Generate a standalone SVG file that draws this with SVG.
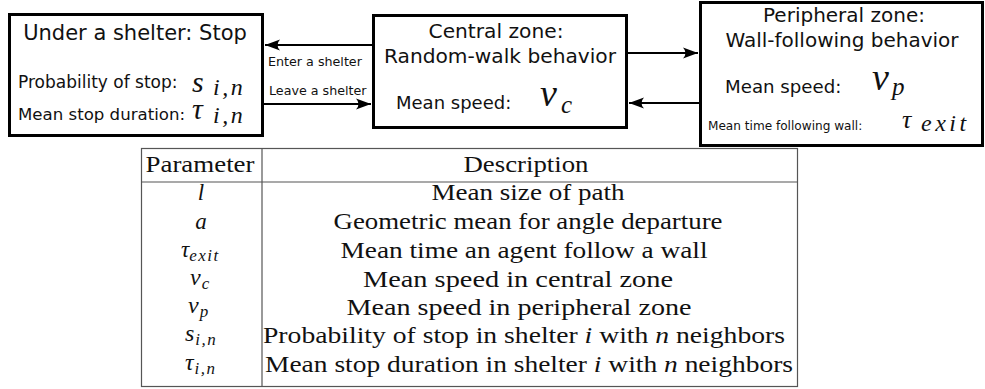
<svg xmlns="http://www.w3.org/2000/svg" width="985" height="389" viewBox="0 0 985 389">
<style>
.box{fill:#fff;stroke:#000;stroke-width:3}
.sans{font-family:"DejaVu Sans",sans-serif;fill:#111}
.serif{font-family:"Liberation Serif",serif;fill:#111}
.math{font-family:"Liberation Serif",serif;font-style:italic;fill:#111}
.conn{stroke:#000;stroke-width:2;fill:none}
.tbl{stroke:#555;stroke-width:1.2;fill:none}
</style>
<defs>
<marker id="ah" markerUnits="userSpaceOnUse" markerWidth="16" markerHeight="12" refX="15" refY="6" orient="auto" viewBox="0 0 16 12">
<path d="M15,6 L0,0.5 Q5,6 0,11.5 Z" fill="#000"/>
</marker>
</defs>
<rect width="985" height="389" fill="#fff"/>

<g id="shelter">
<rect class="box" x="9.5" y="14.5" width="253" height="121"/>
<text class="sans" x="135" y="40" font-size="21" text-anchor="middle">Under a shelter: Stop</text>
<text class="sans" x="18" y="88" font-size="17">Probability of stop:</text>
<text class="math" x="192" y="92" font-size="30">s</text>
<text class="math" x="213" y="95" font-size="24" letter-spacing="2.5">i,n</text>
<text class="sans" x="18" y="120" font-size="16.6">Mean stop duration:</text>
<text class="math" x="192" y="119" font-size="30">τ</text>
<text class="math" x="213" y="123" font-size="24" letter-spacing="2.5">i,n</text>
</g>

<g id="central">
<rect class="box" x="373.5" y="15.5" width="253" height="112"/>
<text class="sans" x="496" y="38" font-size="20.2" text-anchor="middle">Central zone:</text>
<text class="sans" x="500" y="63" font-size="20.2" text-anchor="middle">Random-walk behavior</text>
<text class="sans" x="396" y="109" font-size="18">Mean speed:</text>
<text class="math" x="540" y="106" font-size="38">v</text>
<text class="math" x="561" y="113" font-size="25">c</text>
</g>

<g id="peripheral">
<rect class="box" x="700.5" y="2.5" width="282" height="143"/>
<text class="sans" x="844" y="22" font-size="20" text-anchor="middle">Peripheral zone:</text>
<text class="sans" x="842" y="47" font-size="20" text-anchor="middle">Wall-following behavior</text>
<text class="sans" x="725" y="93" font-size="18.2">Mean speed:</text>
<text class="math" x="872" y="90" font-size="38">v</text>
<text class="math" x="892" y="95" font-size="25">p</text>
<text class="sans" x="708" y="130" font-size="12.1">Mean time following wall:</text>
<text class="math" x="902" y="128" font-size="26">τ</text>
<text class="math" x="921" y="131" font-size="24" letter-spacing="3.5">exit</text>
</g>

<g id="connectors">
<line class="conn" x1="373" y1="45" x2="265" y2="45" marker-end="url(#ah)"/>
<line class="conn" x1="263" y1="104" x2="371" y2="104" marker-end="url(#ah)"/>
<line class="conn" x1="627" y1="53" x2="698" y2="53" marker-end="url(#ah)"/>
<line class="conn" x1="700" y1="103" x2="629" y2="103" marker-end="url(#ah)"/>
<text class="sans" x="268" y="66" font-size="12.7">Enter a shelter</text>
<text class="sans" x="269" y="95" font-size="12.7">Leave a shelter</text>
</g>

<g id="table">
<rect class="tbl" x="141.5" y="148.5" width="656" height="238"/>
<line class="tbl" x1="141.5" y1="182" x2="797.5" y2="182"/>
<line class="tbl" x1="262" y1="148.5" x2="262" y2="386.5"/>
<text class="serif" x="200" y="172" font-size="23" text-anchor="middle" textLength="109" lengthAdjust="spacingAndGlyphs">Parameter</text>
<text class="serif" x="526" y="172" font-size="23" text-anchor="middle" textLength="125" lengthAdjust="spacingAndGlyphs">Description</text>

<text class="math" x="201" y="200" font-size="23" text-anchor="middle">l</text>
<text class="serif" x="528" y="200" font-size="23" text-anchor="middle" textLength="193" lengthAdjust="spacingAndGlyphs">Mean size of path</text>

<text class="math" x="201" y="229" font-size="23" text-anchor="middle">a</text>
<text class="serif" x="528" y="229" font-size="23" text-anchor="middle" textLength="389" lengthAdjust="spacingAndGlyphs">Geometric mean for angle departure</text>

<text class="math" x="181" y="257" font-size="23">τ<tspan font-size="17" dy="4" letter-spacing="1.5">exit</tspan></text>
<text class="serif" x="524" y="258" font-size="23" text-anchor="middle" textLength="367" lengthAdjust="spacingAndGlyphs">Mean time an agent follow a wall</text>

<text class="math" x="190" y="285" font-size="24">v<tspan font-size="17" dy="4" dx="1">c</tspan></text>
<text class="serif" x="518" y="287" font-size="23" text-anchor="middle" textLength="310" lengthAdjust="spacingAndGlyphs">Mean speed in central zone</text>

<text class="math" x="188" y="313" font-size="24">v<tspan font-size="17" dy="4" dx="1">p</tspan></text>
<text class="serif" x="519" y="315" font-size="23" text-anchor="middle" textLength="345" lengthAdjust="spacingAndGlyphs">Mean speed in peripheral zone</text>

<text class="math" x="185" y="341" font-size="24">s<tspan font-size="17" dy="4" dx="1" letter-spacing="1.5">i,n</tspan></text>
<text class="serif" x="524" y="343" font-size="23" text-anchor="middle" textLength="522" lengthAdjust="spacingAndGlyphs">Probability of stop in shelter <tspan font-style="italic">i</tspan> with <tspan font-style="italic">n</tspan> neighbors</text>

<text class="math" x="185" y="370" font-size="24">τ<tspan font-size="17" dy="4" dx="1" letter-spacing="1.5">i,n</tspan></text>
<text class="serif" x="529" y="372" font-size="23" text-anchor="middle" textLength="528" lengthAdjust="spacingAndGlyphs">Mean stop duration in shelter <tspan font-style="italic">i</tspan> with <tspan font-style="italic">n</tspan> neighbors</text>
</g>
</svg>
